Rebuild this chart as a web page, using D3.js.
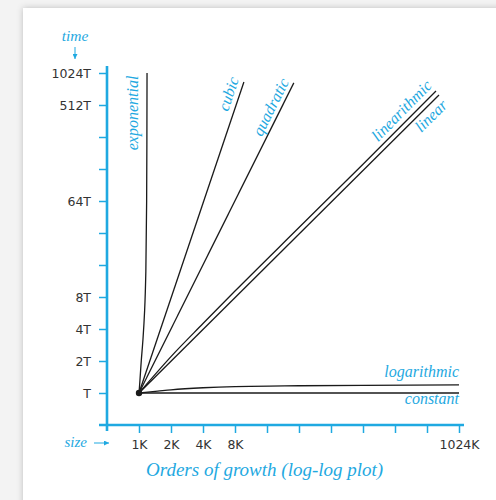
<!DOCTYPE html>
<html>
<head>
<meta charset="utf-8">
<script src="https://cdn.jsdelivr.net/npm/d3@7"></script>
<style>
  html, body { margin: 0; padding: 0; background: #f3f3f3; }
  svg { display: block; }
</style>
</head>
<body>
<svg id="chart" width="496" height="500"></svg>
<script>
// Problem size in units of K, running time in units of T
const xTicks = [1, 2, 4, 8, 16, 32, 64, 128, 256, 512, 1024];
const xTickLabels = ["1K", "2K", "4K", "8K", "", "", "", "", "", "", "1024K"];
const yTicks = [1, 2, 4, 8, 16, 32, 64, 128, 256, 512, 1024];
const yTickLabels = ["T", "2T", "4T", "8T", "", "", "64T", "", "", "512T", "1024T"];

// Growth curves as [size, time] pairs
const constant    = [[1, 1], [1024, 1]];
const logarithmic = [[1, 1], [1.5, 1.04], [2, 1.07], [4, 1.12], [8, 1.15], [32, 1.17], [128, 1.18], [1024, 1.19]];
const linear      = [[1, 1], [664, 636]];
const linearithmic = [[1, 1], [2, 2.2], [4, 4.5], [8, 9.1], [32, 36], [128, 142], [622, 694]];
const quadratic   = [[1, 1], [28.6, 827]];
const cubic       = [[1, 1], [9.7, 843]];
const exponential = [[1, 1], [1.02, 1.3], [1.05, 2], [1.09, 3.2], [1.13, 6], [1.16, 14], [1.18, 64], [1.19, 1024]];

const BLUE = "#1fa9e1";
const INK = "#1a1a1a";
const SERIF = "'Liberation Serif', 'Times New Roman', serif";
const SANS = "'DejaVu Sans', sans-serif";

const svg = d3.select("#chart");

// page panel with a soft shadow
const defs = svg.append("defs");
const f = defs.append("filter").attr("id", "shadow")
  .attr("x", "-10%").attr("y", "-10%").attr("width", "130%").attr("height", "130%");
f.append("feDropShadow").attr("dx", 0).attr("dy", 0)
  .attr("stdDeviation", 3).attr("flood-color", "#000").attr("flood-opacity", 0.22);

defs.append("marker").attr("id", "arrow")
  .attr("viewBox", "0 0 10 10").attr("refX", 10).attr("refY", 5)
  .attr("markerWidth", 5).attr("markerHeight", 5)
  .attr("markerUnits", "userSpaceOnUse").attr("orient", "auto")
  .append("path").attr("d", "M0,0 L10,5 L0,10 z").attr("fill", BLUE);

svg.append("rect").attr("width", 496).attr("height", 500).attr("fill", "#f3f3f3");
svg.append("rect").attr("x", 23).attr("y", 8).attr("width", 520).attr("height", 520)
  .attr("fill", "#fff").attr("filter", "url(#shadow)");

const x = d3.scaleLog().base(2).domain([0.5, 1024]).range([107, 459]);
const y = d3.scaleLog().base(2).domain([0.5, 1024]).range([425, 73]);

// y axis
const gy = svg.append("g").attr("transform", `translate(${x(0.5)},0)`)
  .call(d3.axisLeft(y).tickValues(yTicks)
    .tickFormat((d, i) => yTickLabels[i]).tickSize(8).tickPadding(8));
// x axis
const gx = svg.append("g").attr("transform", `translate(0,${y(0.5)})`)
  .call(d3.axisBottom(x).tickValues(xTicks)
    .tickFormat((d, i) => xTickLabels[i]).tickSize(8).tickPadding(7));

[gx, gy].forEach(g => {
  g.select(".domain").remove();
  g.selectAll(".tick line").attr("stroke", BLUE).attr("stroke-width", 1.5);
  g.selectAll(".tick text").attr("fill", "#333").style("font-family", SANS).style("font-size", "12.5px");
});

// axis lines, crossing slightly at the corner
svg.append("line")
  .attr("x1", x(0.5)).attr("x2", x(0.5))
  .attr("y1", y(1024) - 7).attr("y2", y(0.5) + 6)
  .attr("stroke", BLUE).attr("stroke-width", 2.6);
svg.append("line")
  .attr("x1", x(0.5) - 8).attr("x2", x(1024) + 5)
  .attr("y1", y(0.5)).attr("y2", y(0.5))
  .attr("stroke", BLUE).attr("stroke-width", 2.6);

// axis captions with arrows
svg.append("text").attr("x", 75).attr("y", 41).attr("text-anchor", "middle")
  .attr("fill", BLUE).style("font-family", SERIF).style("font-style", "italic").style("font-size", "15.5px")
  .text("time");
svg.append("line").attr("x1", 75).attr("x2", 75).attr("y1", 47).attr("y2", 59)
  .attr("stroke", BLUE).attr("stroke-width", 1).attr("marker-end", "url(#arrow)");

svg.append("text").attr("x", 87).attr("y", 447).attr("text-anchor", "end")
  .attr("fill", BLUE).style("font-family", SERIF).style("font-style", "italic").style("font-size", "15px")
  .text("size");
svg.append("line").attr("x1", 94).attr("x2", 109).attr("y1", 443).attr("y2", 443)
  .attr("stroke", BLUE).attr("stroke-width", 1).attr("marker-end", "url(#arrow)");

// curves
const line = d3.line().x(d => x(d[0])).y(d => y(d[1]));
const curves = [
  { data: constant, curve: d3.curveLinear },
  { data: logarithmic, curve: d3.curveMonotoneX },
  { data: linear, curve: d3.curveLinear },
  { data: linearithmic, curve: d3.curveMonotoneX },
  { data: quadratic, curve: d3.curveLinear },
  { data: cubic, curve: d3.curveLinear },
  { data: exponential, curve: d3.curveCatmullRom.alpha(0.5) }
];
svg.append("g").selectAll("path").data(curves).join("path")
  .attr("d", c => line.curve(c.curve)(c.data))
  .attr("fill", "none").attr("stroke", INK).attr("stroke-width", 1.3);

svg.append("circle").attr("cx", x(1)).attr("cy", y(1)).attr("r", 3.2).attr("fill", INK);

// labels running along the growth lines
const labelStyle = sel => sel.attr("fill", BLUE).style("font-family", SERIF)
  .style("font-style", "italic").style("font-size", "16px");

const slanted = [
  { text: "cubic", data: cubic, t: 0.951, off: 5.5 },
  { text: "quadratic", data: quadratic, t: 0.908, off: 4.5 },
  { text: "linearithmic", data: linearithmic, t: 0.91, off: 5.5 },
  { text: "linear", data: linear, t: 0.952, off: -14.5 }
];
slanted.forEach(l => {
  const a = l.data[0], b = l.data[l.data.length - 1];
  const p0 = [x(a[0]), y(a[1])], p1 = [x(b[0]), y(b[1])];
  const dx = p1[0] - p0[0], dy = p1[1] - p0[1];
  const len = Math.hypot(dx, dy);
  const ux = dx / len, uy = dy / len;
  const nx = uy, ny = -ux; // text "up" direction
  const px = p0[0] + l.t * len * ux + l.off * nx;
  const py = p0[1] + l.t * len * uy + l.off * ny;
  const ang = Math.atan2(uy, ux) * 180 / Math.PI;
  svg.append("text").attr("text-anchor", "middle")
    .attr("transform", `translate(${px},${py}) rotate(${ang})`)
    .call(labelStyle).text(l.text);
});

// exponential: vertical label left of the curve
const expTop = exponential[exponential.length - 1];
svg.append("text").attr("text-anchor", "middle")
  .attr("transform", `translate(${x(expTop[0]) - 9},${113}) rotate(-90)`)
  .call(labelStyle).text("exponential");

// horizontal labels at the right end
const logEnd = logarithmic[logarithmic.length - 1];
svg.append("text").attr("text-anchor", "end")
  .attr("x", x(logEnd[0])).attr("y", y(logEnd[1]) - 8)
  .call(labelStyle).text("logarithmic");
const constEnd = constant[constant.length - 1];
svg.append("text").attr("text-anchor", "end")
  .attr("x", x(constEnd[0])).attr("y", y(constEnd[1]) + 11)
  .call(labelStyle).text("constant");

// title
svg.append("text").attr("x", 146).attr("y", 476)
  .attr("fill", BLUE).style("font-family", SERIF).style("font-style", "italic").style("font-size", "19px")
  .text("Orders of growth (log-log plot)");
</script>
</body>
</html>
